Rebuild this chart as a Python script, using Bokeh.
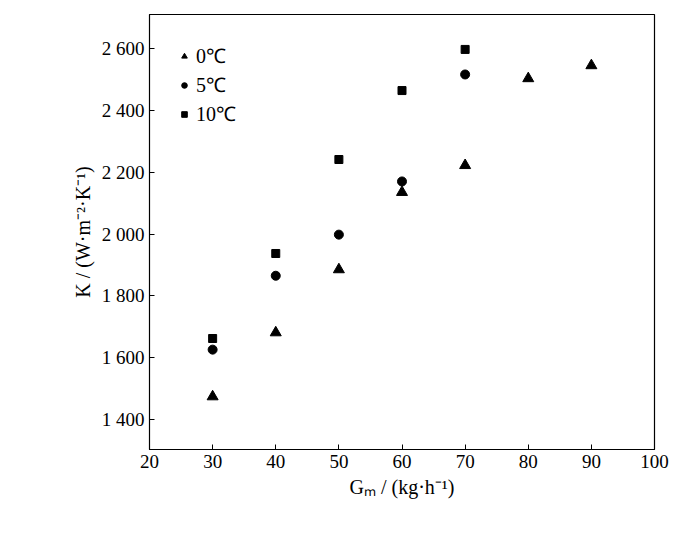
from bokeh.plotting import figure
from bokeh.models import Legend, FixedTicker, CustomJSTickFormatter, Range1d
from bokeh.embed import file_html
from bokeh.resources import INLINE

x0 = [30, 40, 50, 60, 70, 80, 90]
y0 = [1474, 1681, 1885, 2135, 2222, 2503, 2545]
x5 = [30, 40, 50, 60, 70]
y5 = [1626, 1865, 1998, 2170, 2516]
x10 = [30, 40, 50, 60, 70]
y10 = [1662, 1937, 2241, 2464, 2597]
xticks = [20, 30, 40, 50, 60, 70, 80, 90, 100]
yticks = [1400, 1600, 1800, 2000, 2200, 2400, 2600]

p = figure(width=684, height=522, output_backend="svg", toolbar_location=None,
           x_range=Range1d(20, 100), y_range=Range1d(1303, 2710),
           min_border_left=149, min_border_right=30, min_border_top=14, min_border_bottom=73)
p.background_fill_color = "white"
p.outline_line_color = "black"
p.outline_line_width = 1.2
p.grid.visible = False
f = "Liberation Serif"
r0 = p.scatter(x0, y0, marker="triangle", size=11, color="black")
r5 = p.scatter(x5, y5, marker="circle", size=9, color="black")
r10 = p.scatter(x10, y10, marker="square", size=8, color="black")
for ax in (p.xaxis[0], p.yaxis[0]):
    ax.major_label_text_font = f
    ax.major_label_text_font_size = "19px"
    ax.major_label_text_color = "black"
    ax.axis_label_text_font = f
    ax.axis_label_text_font_size = "20px"
    ax.axis_label_text_color = "black"
    ax.axis_label_text_font_style = "normal"
    ax.major_tick_in = 5
    ax.major_tick_out = 0
    ax.minor_tick_line_color = None
    ax.axis_line_color = "black"
    ax.major_tick_line_color = "black"
p.xaxis.ticker = FixedTicker(ticks=xticks)
p.yaxis.ticker = FixedTicker(ticks=yticks)
p.yaxis.formatter = CustomJSTickFormatter(code="var s=String(tick); return s.length>3? s.slice(0,s.length-3)+' '+s.slice(-3): s;")
p.xaxis.axis_label = "Gₘ / (kg·h⁻¹)"
p.yaxis.axis_label = "K / (W·m⁻²·K⁻¹)"
leg = Legend(items=[("0℃", [r0]), ("5℃", [r5]), ("10℃", [r10])], location="top_left",
             border_line_color=None, background_fill_alpha=0, label_text_font=f,
             label_text_font_size="20px", label_text_color="black", spacing=2, glyph_width=14,
             label_height=22, padding=4, margin=28)
p.add_layout(leg)
open("out.html", "w").write(file_html(p, INLINE))
